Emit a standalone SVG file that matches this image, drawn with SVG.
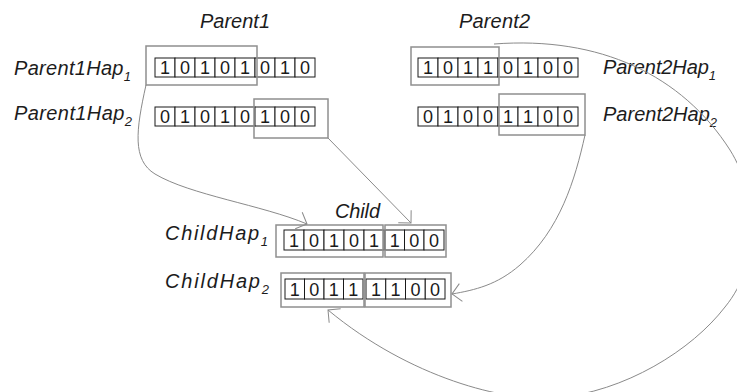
<svg xmlns="http://www.w3.org/2000/svg" width="737" height="392" viewBox="0 0 737 392">
  <style>
    .lbl { font-family: "Liberation Sans", Arial, sans-serif; font-style: italic; font-size: 20px; fill: #1c1c1c; }
    .sub { font-size: 13px; }
    .cell { fill: #ffffff; stroke: #1a1a1a; stroke-width: 1; }
    .bit { font-family: "Liberation Sans", Arial, sans-serif; font-size: 18px; fill: #1a1a1a; text-anchor: middle; }
    .sel { fill: none; stroke: #8f8f8f; stroke-width: 1.5; }
    .link { fill: none; stroke: #8a8a8a; stroke-width: 1; marker-end: url(#open); }
  </style>
  <defs>
    <marker id="open" markerUnits="userSpaceOnUse" markerWidth="24" markerHeight="24" refX="12" refY="12" orient="auto" viewBox="0 0 24 24">
      <path d="M3,3 L12,12 L3,21" fill="none" stroke="#8a8a8a" stroke-width="1"/>
    </marker>
  </defs>
  <rect width="737" height="392" fill="#ffffff"/>

  <!-- column headings -->
  <text class="lbl" x="200" y="28" textLength="70" lengthAdjust="spacing">Parent1</text>
  <text class="lbl" x="459" y="28" textLength="71" lengthAdjust="spacing">Parent2</text>
  <text class="lbl" x="335" y="218" textLength="45" lengthAdjust="spacing">Child</text>

  <!-- Parent 1, haplotype 1 -->
  <g id="parent1hap1">
    <text class="lbl" x="14" y="75" textLength="117" lengthAdjust="spacing">Parent1Hap<tspan class="sub" dy="6">1</tspan></text>
    <g>
      <rect class="cell" x="155" y="58" width="20" height="19"/><text class="bit" x="165" y="74">1</text>
      <rect class="cell" x="175" y="58" width="20" height="19"/><text class="bit" x="185" y="74">0</text>
      <rect class="cell" x="195" y="58" width="20" height="19"/><text class="bit" x="205" y="74">1</text>
      <rect class="cell" x="215" y="58" width="20" height="19"/><text class="bit" x="225" y="74">0</text>
      <rect class="cell" x="235" y="58" width="20" height="19"/><text class="bit" x="245" y="74">1</text>
      <rect class="cell" x="255" y="58" width="20" height="19"/><text class="bit" x="265" y="74">0</text>
      <rect class="cell" x="275" y="58" width="20" height="19"/><text class="bit" x="285" y="74">1</text>
      <rect class="cell" x="295" y="58" width="20" height="19"/><text class="bit" x="305" y="74">0</text>
    </g>
    <rect class="sel" x="146" y="46" width="111" height="39"/>
  </g>

  <!-- Parent 1, haplotype 2 -->
  <g id="parent1hap2">
    <text class="lbl" x="14" y="120" textLength="118" lengthAdjust="spacing">Parent1Hap<tspan class="sub" dy="6">2</tspan></text>
    <g>
      <rect class="cell" x="155" y="107" width="20" height="19"/><text class="bit" x="165" y="123">0</text>
      <rect class="cell" x="175" y="107" width="20" height="19"/><text class="bit" x="185" y="123">1</text>
      <rect class="cell" x="195" y="107" width="20" height="19"/><text class="bit" x="205" y="123">0</text>
      <rect class="cell" x="215" y="107" width="20" height="19"/><text class="bit" x="225" y="123">1</text>
      <rect class="cell" x="235" y="107" width="20" height="19"/><text class="bit" x="245" y="123">0</text>
      <rect class="cell" x="255" y="107" width="20" height="19"/><text class="bit" x="265" y="123">1</text>
      <rect class="cell" x="275" y="107" width="20" height="19"/><text class="bit" x="285" y="123">0</text>
      <rect class="cell" x="295" y="107" width="20" height="19"/><text class="bit" x="305" y="123">0</text>
    </g>
    <rect class="sel" x="254" y="99" width="74" height="39"/>
  </g>

  <!-- Parent 2, haplotype 1 -->
  <g id="parent2hap1">
    <text class="lbl" x="603" y="74" textLength="113" lengthAdjust="spacing">Parent2Hap<tspan class="sub" dy="6">1</tspan></text>
    <g>
      <rect class="cell" x="418" y="58" width="20" height="19"/><text class="bit" x="428" y="74">1</text>
      <rect class="cell" x="438" y="58" width="20" height="19"/><text class="bit" x="448" y="74">0</text>
      <rect class="cell" x="458" y="58" width="20" height="19"/><text class="bit" x="468" y="74">1</text>
      <rect class="cell" x="478" y="58" width="20" height="19"/><text class="bit" x="488" y="74">1</text>
      <rect class="cell" x="498" y="58" width="20" height="19"/><text class="bit" x="508" y="74">0</text>
      <rect class="cell" x="518" y="58" width="20" height="19"/><text class="bit" x="528" y="74">1</text>
      <rect class="cell" x="538" y="58" width="20" height="19"/><text class="bit" x="548" y="74">0</text>
      <rect class="cell" x="558" y="58" width="20" height="19"/><text class="bit" x="568" y="74">0</text>
    </g>
    <rect class="sel" x="411" y="47" width="88" height="38"/>
  </g>

  <!-- Parent 2, haplotype 2 -->
  <g id="parent2hap2">
    <text class="lbl" x="603" y="121" textLength="114" lengthAdjust="spacing">Parent2Hap<tspan class="sub" dy="6">2</tspan></text>
    <g>
      <rect class="cell" x="418" y="107" width="20" height="19"/><text class="bit" x="428" y="123">0</text>
      <rect class="cell" x="438" y="107" width="20" height="19"/><text class="bit" x="448" y="123">1</text>
      <rect class="cell" x="458" y="107" width="20" height="19"/><text class="bit" x="468" y="123">0</text>
      <rect class="cell" x="478" y="107" width="20" height="19"/><text class="bit" x="488" y="123">0</text>
      <rect class="cell" x="498" y="107" width="20" height="19"/><text class="bit" x="508" y="123">1</text>
      <rect class="cell" x="518" y="107" width="20" height="19"/><text class="bit" x="528" y="123">1</text>
      <rect class="cell" x="538" y="107" width="20" height="19"/><text class="bit" x="548" y="123">0</text>
      <rect class="cell" x="558" y="107" width="20" height="19"/><text class="bit" x="568" y="123">0</text>
    </g>
    <rect class="sel" x="499" y="94" width="86" height="41"/>
  </g>

  <!-- Child, haplotype 1 -->
  <g id="childhap1">
    <text class="lbl" x="165" y="240" textLength="103" lengthAdjust="spacing">ChildHap<tspan class="sub" dy="6">1</tspan></text>
    <g>
      <rect class="cell" x="284" y="230" width="20" height="20"/><text class="bit" x="294" y="246.5">1</text>
      <rect class="cell" x="304" y="230" width="20" height="20"/><text class="bit" x="314" y="246.5">0</text>
      <rect class="cell" x="324" y="230" width="20" height="20"/><text class="bit" x="334" y="246.5">1</text>
      <rect class="cell" x="344" y="230" width="20" height="20"/><text class="bit" x="354" y="246.5">0</text>
      <rect class="cell" x="364" y="230" width="20" height="20"/><text class="bit" x="374" y="246.5">1</text>
      <rect class="cell" x="385" y="230" width="19.5" height="20"/><text class="bit" x="394.7" y="246.5">1</text>
      <rect class="cell" x="404.5" y="230" width="19.5" height="20"/><text class="bit" x="414.2" y="246.5">0</text>
      <rect class="cell" x="424" y="230" width="20" height="20"/><text class="bit" x="434" y="246.5">0</text>
    </g>
    <rect class="sel" x="276" y="225" width="107" height="32"/>
    <rect class="sel" x="385" y="225" width="61" height="32"/>
  </g>

  <!-- Child, haplotype 2 -->
  <g id="childhap2">
    <text class="lbl" x="165" y="288" textLength="104" lengthAdjust="spacing">ChildHap<tspan class="sub" dy="6">2</tspan></text>
    <g>
      <rect class="cell" x="285" y="279" width="19.5" height="20"/><text class="bit" x="294.7" y="295.5">1</text>
      <rect class="cell" x="304.5" y="279" width="19.5" height="20"/><text class="bit" x="314.2" y="295.5">0</text>
      <rect class="cell" x="324" y="279" width="19.5" height="20"/><text class="bit" x="333.7" y="295.5">1</text>
      <rect class="cell" x="343.5" y="279" width="19.5" height="20"/><text class="bit" x="353.2" y="295.5">1</text>
      <rect class="cell" x="366" y="279" width="19.75" height="20"/><text class="bit" x="375.9" y="295.5">1</text>
      <rect class="cell" x="385.75" y="279" width="19.75" height="20"/><text class="bit" x="395.6" y="295.5">1</text>
      <rect class="cell" x="405.5" y="279" width="19.75" height="20"/><text class="bit" x="415.4" y="295.5">0</text>
      <rect class="cell" x="425.25" y="279" width="19.75" height="20"/><text class="bit" x="435.1" y="295.5">0</text>
    </g>
    <rect class="sel" x="281" y="273" width="83" height="34"/>
    <rect class="sel" x="365" y="273" width="86" height="34"/>
  </g>

  <!-- inheritance arrows -->
  <g id="connectors">
    <path class="link" d="M146,85 C136,130 132,160 155,174 C190,195 262,205 307,224"/>
    <path class="link" d="M328,138 L411,223"/>
    <path class="link" d="M585,135 C575,180 560,230 520,265 C497,285 475,290 452,294"/>
    <path class="link" d="M494,44 C600,36 682,75 730,150 C758,195 762,262 725,307 C692,350 625,392 555,398 C505,402 410,378 328,310"/>
  </g>
</svg>
